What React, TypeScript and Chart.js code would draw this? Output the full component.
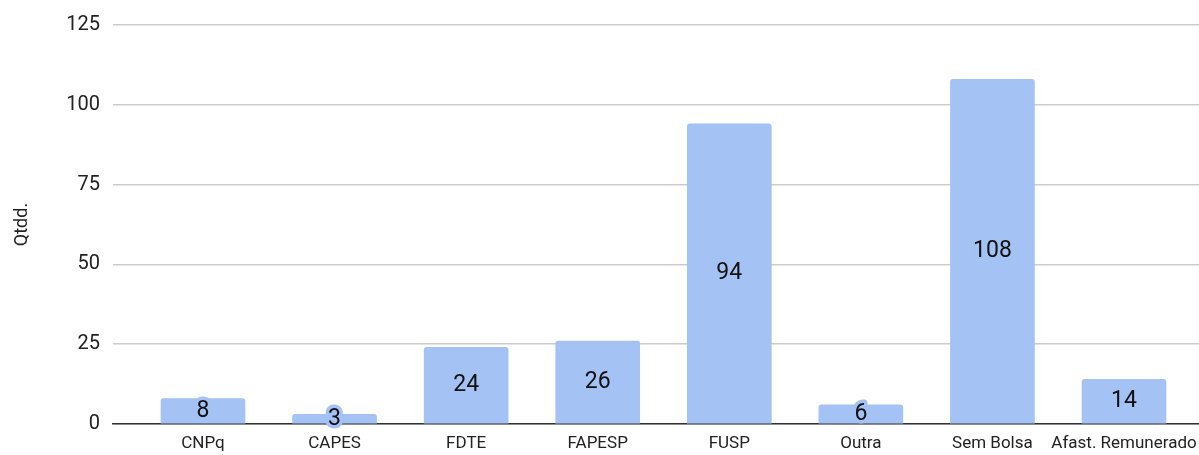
import React, { useEffect, useRef } from "react";
import { Chart, registerables } from "chart.js";

Chart.register(...registerables);

const categories = ["CNPq", "CAPES", "FDTE", "FAPESP", "FUSP", "Outra", "Sem Bolsa", "Afast. Remunerado"];
const values = [8, 3, 24, 26, 94, 6, 108, 14];
const yTicks = [0, 25, 50, 75, 100, 125];

const BAR_COLOR = "#a4c2f4";
const FONT = "Roboto, sans-serif";

const labelPlugin = {
  id: "barLabels",
  afterDatasetsDraw(chart: any) {
    const ctx = chart.ctx;
    const meta = chart.getDatasetMeta(0);
    ctx.save();
    ctx.font = `23px ${FONT}`;
    ctx.textAlign = "center";
    ctx.textBaseline = "middle";
    ctx.lineJoin = "round";
    meta.data.forEach((el: any, i: number) => {
      const x = el.x;
      const y = (el.y + el.base) / 2;
      const t = String(values[i]);
      ctx.strokeStyle = BAR_COLOR;
      ctx.lineWidth = 7;
      ctx.strokeText(t, x, y);
      ctx.fillStyle = "#111";
      ctx.fillText(t, x, y);
    });
    ctx.restore();
  },
};

export default function App() {
  const ref = useRef<HTMLCanvasElement>(null);
  useEffect(() => {
    document.body.style.margin = "0";
    const data = values.map((v, i) => ({ x: i, y: v }));
    const chart = new Chart(ref.current!, {
      type: "bar",
      data: {
        datasets: [
          {
            data,
            backgroundColor: BAR_COLOR,
            borderRadius: 3,
            borderSkipped: "bottom",
            barThickness: 84,
          },
        ],
      },
      options: {
        animation: false,
        responsive: false,
        maintainAspectRatio: false,
        layout: { padding: { top: 24, left: 0, right: 0, bottom: 0 } },
        plugins: { legend: { display: false }, tooltip: { enabled: false } },
        scales: {
          x: {
            type: "linear",
            offset: false,
            min: -0.684,
            max: 7.57,
            afterBuildTicks(scale: any) {
              scale.ticks = categories.map((_, i) => ({ value: i }));
            },
            afterFit(scale: any) {
              scale.height = 31;
              scale.paddingLeft = 0;
              scale.paddingRight = 0;
            },
            ticks: {
              callback: (v: any) => categories[v as number],
              color: "#222",
              font: { family: FONT, size: 17 },
              padding: 10,
              maxRotation: 0,
              autoSkip: false,
            },
            grid: { display: false, drawTicks: false },
            border: { display: true, color: "#333", width: 1.5 },
          },
          y: {
            min: 0,
            max: 125,
            afterBuildTicks(scale: any) {
              scale.ticks = yTicks.map((v) => ({ value: v }));
            },
            afterFit(scale: any) {
              scale.width = 113;
            },
            ticks: {
              color: "#222",
              font: { family: FONT, size: 20 },
              padding: 13,
            },
            grid: { color: "#cccccc", lineWidth: 1.5, drawTicks: false },
            border: { display: false },
            title: {
              display: true,
              text: "Qtdd.",
              color: "#222",
              font: { family: FONT, size: 18 },
              padding: { top: 12, bottom: 0 },
            },
          },
        },
      },
      plugins: [labelPlugin],
    });
    return () => chart.destroy();
  }, []);
  return <canvas ref={ref} width={1199} height={455} style={{ display: "block" }} />;
}
